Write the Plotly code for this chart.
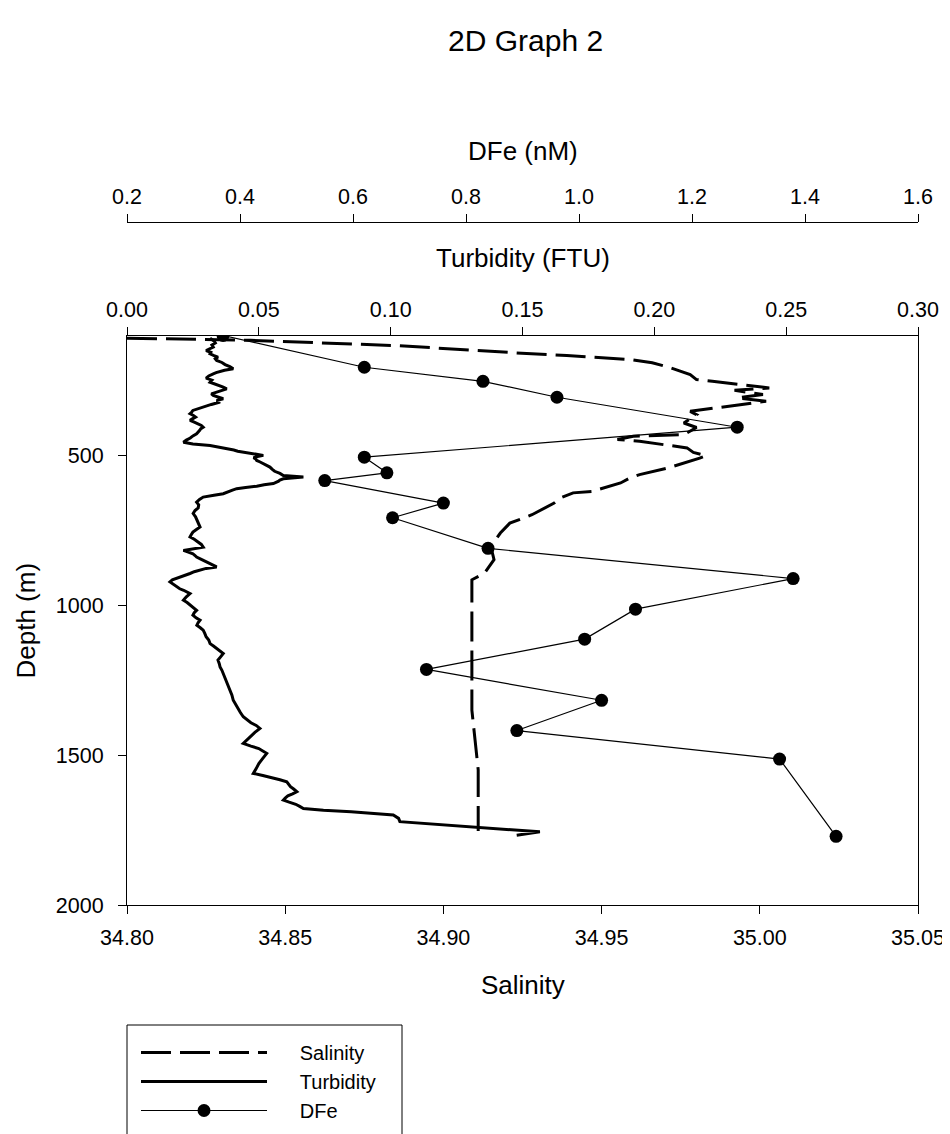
import plotly.graph_objects as go

# ---------------- data ----------------
dfe_depth = [100, 206, 253, 306, 406, 506, 558, 584, 659, 708, 810, 911,
             1013, 1113, 1214, 1317, 1418, 1513, 1771]
dfe_values = [0.370, 0.620, 0.830, 0.961, 1.280, 0.620, 0.660, 0.550, 0.760,
              0.670, 0.839, 1.379, 1.100, 1.010, 0.730, 1.040, 0.890, 1.355, 1.455]

sal_depth = [109, 116, 134, 147, 158, 167, 180, 191, 205, 230, 247, 253, 275,
             283, 297, 308, 319, 325, 353, 364, 392, 407, 431, 436, 447, 453,
             461, 475, 490, 501, 509, 542, 564, 575, 592, 620, 625, 642, 659,
             698, 726, 759, 804, 848, 893, 915, 992, 1048, 1138, 1249, 1350,
             1449, 1549, 1650, 1753]
sal_values = [34.800, 34.839, 34.886, 34.905, 34.923, 34.939, 34.959, 34.966,
              34.971, 34.978, 34.980, 34.985, 35.003, 34.992, 35.001, 34.993,
              35.002, 34.998, 34.978, 34.980, 34.976, 34.980, 34.976, 34.960,
              34.955, 34.962, 34.968, 34.977, 34.979, 34.983, 34.981, 34.971,
              34.962, 34.959, 34.956, 34.947, 34.941, 34.937, 34.935, 34.928,
              34.921, 34.918, 34.915, 34.916, 34.913, 34.909, 34.909, 34.909,
              34.909, 34.909, 34.909, 34.910, 34.911, 34.911, 34.911]

turb_depth = [109, 118, 125, 132, 139, 145, 150, 156, 161, 167, 172, 178, 183,
              190, 197, 204, 211, 216, 220, 224, 228, 235, 242, 249, 256, 262,
              267, 272, 278, 284, 289, 295, 300, 306, 311, 317, 322, 330, 339,
              345, 350, 356, 361, 367, 372, 378, 383, 389, 395, 400, 406, 411,
              417, 422, 428, 435, 442, 449, 456, 462, 467, 473, 478, 482, 486,
              490, 494, 500, 504, 508, 512, 517, 522, 528, 533, 539, 546, 553,
              560, 567, 572, 578, 582, 586, 590, 594, 598, 603, 607, 611, 616,
              620, 624, 628, 633, 639, 647, 656, 665, 675, 684, 694, 705, 717,
              728, 739, 748, 756, 764, 772, 780, 789, 797, 806, 811, 817, 822,
              828, 834, 839, 845, 850, 856, 861, 866, 872, 877, 883, 888, 894,
              901, 908, 915, 922, 930, 939, 945, 950, 955, 961, 972, 983, 991,
              1000, 1008, 1017, 1025, 1033, 1042, 1050, 1058, 1067, 1075, 1083,
              1094, 1105, 1116, 1128, 1136, 1145, 1153, 1161, 1172, 1183, 1195,
              1206, 1217, 1228, 1239, 1250, 1267, 1283, 1300, 1317, 1331, 1345,
              1358, 1372, 1382, 1392, 1401, 1411, 1424, 1436, 1449, 1461, 1470,
              1478, 1486, 1494, 1511, 1528, 1545, 1561, 1568, 1575, 1582, 1589,
              1597, 1605, 1613, 1622, 1629, 1636, 1643, 1650, 1657, 1664, 1671,
              1678, 1684, 1689, 1700, 1711, 1722, 1733, 1740, 1744, 1750, 1756,
              1767, 1775]
turb_values = [0.0315, 0.0330, 0.0335, 0.0322, 0.0327, 0.0310, 0.0300, 0.0318,
               0.0315, 0.0330, 0.0345, 0.0335, 0.0340, 0.0360, 0.0372, 0.0390,
               0.0403, 0.0370, 0.0350, 0.0338, 0.0327, 0.0310, 0.0300, 0.0322,
               0.0315, 0.0335, 0.0350, 0.0365, 0.0378, 0.0355, 0.0340, 0.0320,
               0.0327, 0.0345, 0.0365, 0.0340, 0.0353, 0.0320, 0.0289, 0.0270,
               0.0250, 0.0245, 0.0239, 0.0252, 0.0260, 0.0248, 0.0239, 0.0255,
               0.0270, 0.0282, 0.0289, 0.0280, 0.0275, 0.0270, 0.0264, 0.0250,
               0.0240, 0.0225, 0.0214, 0.0250, 0.0315, 0.0350, 0.0391, 0.0405,
               0.0420, 0.0445, 0.0466, 0.0517, 0.0495, 0.0480, 0.0488, 0.0492,
               0.0505, 0.0520, 0.0530, 0.0542, 0.0550, 0.0560, 0.0580, 0.0593,
               0.0669, 0.0593, 0.0580, 0.0575, 0.0565, 0.0555, 0.0520, 0.0492,
               0.0450, 0.0416, 0.0400, 0.0390, 0.0378, 0.0365, 0.0330, 0.0289,
               0.0275, 0.0264, 0.0272, 0.0270, 0.0258, 0.0251, 0.0260, 0.0265,
               0.0272, 0.0277, 0.0262, 0.0250, 0.0244, 0.0239, 0.0255, 0.0270,
               0.0282, 0.0289, 0.0250, 0.0214, 0.0230, 0.0250, 0.0258, 0.0264,
               0.0278, 0.0290, 0.0305, 0.0315, 0.0328, 0.0340, 0.0300, 0.0270,
               0.0255, 0.0239, 0.0215, 0.0190, 0.0172, 0.0163, 0.0175, 0.0188,
               0.0200, 0.0215, 0.0228, 0.0239, 0.0225, 0.0214, 0.0228, 0.0240,
               0.0252, 0.0264, 0.0255, 0.0250, 0.0262, 0.0277, 0.0270, 0.0265,
               0.0278, 0.0289, 0.0295, 0.0300, 0.0310, 0.0315, 0.0328, 0.0340,
               0.0352, 0.0365, 0.0355, 0.0345, 0.0350, 0.0353, 0.0360, 0.0365,
               0.0372, 0.0378, 0.0385, 0.0390, 0.0398, 0.0403, 0.0412, 0.0420,
               0.0430, 0.0441, 0.0455, 0.0470, 0.0490, 0.0504, 0.0485, 0.0470,
               0.0455, 0.0441, 0.0470, 0.0500, 0.0515, 0.0530, 0.0515, 0.0500,
               0.0490, 0.0479, 0.0515, 0.0550, 0.0580, 0.0606, 0.0612, 0.0620,
               0.0632, 0.0644, 0.0628, 0.0610, 0.0600, 0.0593, 0.0615, 0.0640,
               0.0655, 0.0669, 0.0745, 0.0850, 0.1010, 0.1030, 0.1035, 0.1200,
               0.1326, 0.1400, 0.1453, 0.1566, 0.1478]

sal_ticks = [34.80, 34.85, 34.90, 34.95, 35.00, 35.05]
sal_ticktext = ["34.80", "34.85", "34.90", "34.95", "35.00", "35.05"]
turb_ticks = [0.00, 0.05, 0.10, 0.15, 0.20, 0.25, 0.30]
turb_ticktext = ["0.00", "0.05", "0.10", "0.15", "0.20", "0.25", "0.30"]
dfe_ticks = [0.2, 0.4, 0.6, 0.8, 1.0, 1.2, 1.4, 1.6]
dfe_ticktext = ["0.2", "0.4", "0.6", "0.8", "1.0", "1.2", "1.4", "1.6"]
depth_ticks = [500, 1000, 1500, 2000]
depth_ticktext = ["500", "1000", "1500", "2000"]
series_names = ["Salinity", "Turbidity", "DFe"]

FONT = "Liberation Sans, Arial, sans-serif"
OFF = 8  # default page-body margin that shifts the whole figure
PAGE_W, PAGE_H = 950, 1134
W, H = PAGE_W - OFF, PAGE_H - OFF
# plot box in page pixels: x 127..918, y 336..905 ; DFe axis at y 222
ML = 127 - OFF
MR = PAGE_W - 918
MT = 222 - OFF
MB = H - (905 - OFF)
PW = W - ML - MR
PH = H - MT - MB
PAD = "\u00a0" * 5  # gap between legend sample and label


def px_x(x):
    return (x - OFF - ML) / PW


def px_y(y):
    return (H - MB - (y - OFF)) / PH


fig = go.Figure()

fig.add_trace(go.Scatter(
    x=sal_values, y=sal_depth, xaxis="x", yaxis="y", mode="lines",
    name=PAD + series_names[0],
    line=dict(color="black", width=3, dash="30px,9px")))

fig.add_trace(go.Scatter(
    x=turb_values, y=turb_depth, xaxis="x2", yaxis="y", mode="lines",
    name=PAD + series_names[1],
    line=dict(color="black", width=3)))

fig.add_trace(go.Scatter(
    x=dfe_values, y=dfe_depth, xaxis="x3", yaxis="y", mode="lines+markers",
    name=PAD + series_names[2],
    line=dict(color="black", width=1.2),
    marker=dict(color="black", size=13, symbol="circle")))

axis_common = dict(showgrid=False, zeroline=False, showline=True,
                   linecolor="black", linewidth=1, ticks="outside",
                   ticklen=8, tickwidth=1, tickcolor="black", automargin=False,
                   tickfont=dict(family=FONT, size=21.5, color="black"))

ytop_dom = px_y(335.5)

fig.update_layout(
    width=W, height=H,
    margin=dict(l=ML, r=MR, t=MT, b=MB, pad=0, autoexpand=False),
    paper_bgcolor="white", plot_bgcolor="white",
    font=dict(family=FONT, color="black"),
    showlegend=True,
    xaxis=dict(range=[34.80, 35.05], tickvals=sal_ticks, ticktext=sal_ticktext,
               side="bottom", anchor="y", domain=[0, 1],
               ticklabelstandoff=5, **axis_common),
    xaxis2=dict(range=[0.0, 0.30], tickvals=turb_ticks, ticktext=turb_ticktext,
                side="top", anchor="y", overlaying="x",
                ticklabelstandoff=1, **axis_common),
    xaxis3=dict(range=[0.2, 1.6], tickvals=dfe_ticks, ticktext=dfe_ticktext,
                side="top", anchor="free", position=1.0, overlaying="x",
                ticklabelstandoff=1, **axis_common),
    yaxis=dict(range=[2000, 100], tickvals=depth_ticks, ticktext=depth_ticktext,
               domain=[0, ytop_dom], mirror=True, ticklabelstandoff=10,
               **axis_common),
    legend=dict(x=px_x(136), y=px_y(1033), xanchor="left", yanchor="top",
                bgcolor="rgba(0,0,0,0)", borderwidth=0,
                font=dict(family=FONT, size=20, color="black"),
                itemwidth=126, traceorder="normal"),
)

annotations = [
    dict(text="2D Graph 2", x=px_x(525), y=px_y(40), size=30),
    dict(text="DFe (nM)", x=px_x(522.5), y=px_y(151), size=26),
    dict(text="Turbidity (FTU)", x=px_x(522.5), y=px_y(258), size=26),
    dict(text="Salinity", x=px_x(522.5), y=px_y(985), size=26),
]
for a in annotations:
    fig.add_annotation(text=a["text"], x=a["x"], y=a["y"], xref="paper",
                       yref="paper", showarrow=False, xanchor="center",
                       yanchor="middle",
                       font=dict(family=FONT, size=a["size"], color="black"))
fig.add_annotation(text="Depth (m)", x=px_x(25), y=px_y(620.5), xref="paper",
                   yref="paper", showarrow=False, textangle=-90,
                   xanchor="center", yanchor="middle",
                   font=dict(family=FONT, size=26, color="black"))

# legend frame (extends past the bottom edge like the reference)
fig.add_shape(type="rect", xref="paper", yref="paper",
              x0=px_x(127), x1=px_x(402), y0=px_y(1025), y1=px_y(1150),
              line=dict(color="black", width=1), fillcolor="rgba(0,0,0,0)")

fig.write_html("out.html")
